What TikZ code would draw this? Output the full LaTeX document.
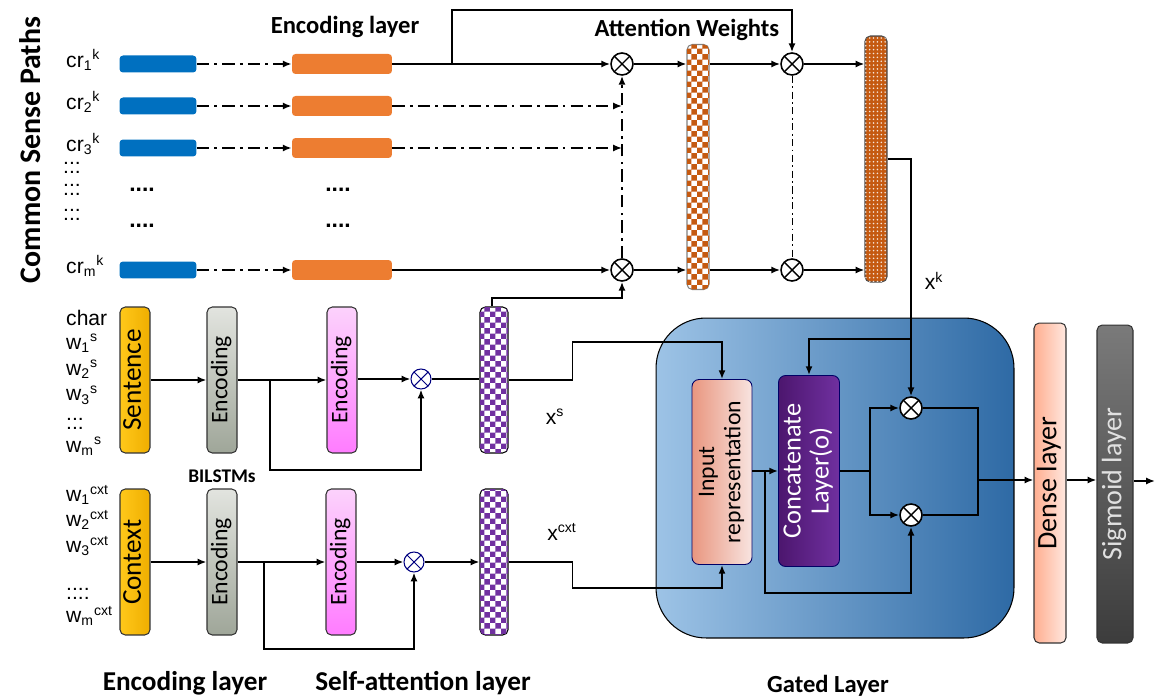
\documentclass[tikz,border=0pt]{standalone}
\usepackage{fontspec}
\setmainfont{Carlito}
\newfontfamily\arialf{Liberation Sans}
\usetikzlibrary{arrows.meta,patterns,calc}

\definecolor{cblue}{HTML}{0070C0}
\definecolor{corange}{HTML}{ED7D31}
\definecolor{cbrown}{HTML}{C55A11}
\definecolor{cpurple}{HTML}{7030A0}
\definecolor{cyel}{HTML}{FFC81A}
\definecolor{cyel2}{HTML}{EFAE00}
\definecolor{cgry}{HTML}{E2E4DF}
\definecolor{cgry2}{HTML}{9FA699}
\definecolor{cpnk}{HTML}{FCD2FC}
\definecolor{cpnk2}{HTML}{FF7CFF}
\definecolor{cir}{HTML}{E9967F}
\definecolor{cir2}{HTML}{F8E4E0}
\definecolor{cconc}{HTML}{4C166E}
\definecolor{cconc2}{HTML}{7030A0}
\definecolor{cgate}{HTML}{9DC3E6}
\definecolor{cgate2}{HTML}{2E6AA5}
\definecolor{cdns}{HTML}{FFAE90}
\definecolor{cdns2}{HTML}{FFE8E0}
\definecolor{csig}{HTML}{7A7A7A}
\definecolor{csig2}{HTML}{3C3C3C}

\pgfdeclarepatternformonly{bigchecker}{\pgfpointorigin}{\pgfqpoint{6.2pt}{6.2pt}}{\pgfqpoint{6.2pt}{6.2pt}}{%
  \pgfpathrectangle{\pgfpointorigin}{\pgfqpoint{3.1pt}{3.1pt}}%
  \pgfpathrectangle{\pgfqpoint{3.1pt}{3.1pt}}{\pgfqpoint{3.1pt}{3.1pt}}%
  \pgfusepath{fill}}
\pgfdeclarepatternformonly{whitedots}{\pgfqpoint{-1pt}{-1pt}}{\pgfqpoint{1pt}{1pt}}{\pgfqpoint{2.2pt}{2.2pt}}{%
  \pgfpathcircle{\pgfpointorigin}{0.5pt}\pgfusepath{fill}}

\newcommand{\vtxt}[1]{\rotatebox{90}{\begin{tabular}{@{}c@{}}#1\end{tabular}}}

\tikzset{
  ln/.style={line width=1.1pt},
  dd/.style={dash pattern=on 7pt off 3pt on 1.5pt off 3pt},
  ttl/.style={font=\fontsize{14}{16}\selectfont\bfseries},
  lbl/.style={font=\arialf\fontsize{12}{14}\selectfont},
  otimes/.style={circle, draw, line width=0.9pt, fill=white, minimum size=0.44cm, inner sep=0pt,
    path picture={\draw[line width=0.8pt] (path picture bounding box.north west) -- (path picture bounding box.south east)
      (path picture bounding box.south west) -- (path picture bounding box.north east);}},
  saot/.style={otimes, draw=blue!50!black, line width=0.6pt, minimum size=0.4cm,
    path picture={\draw[blue!50!black, line width=0.6pt] (path picture bounding box.north west) -- (path picture bounding box.south east)
      (path picture bounding box.south west) -- (path picture bounding box.north east);}},
  bbar/.style={rectangle, rounded corners=2pt, fill=cblue, minimum width=1.54cm, minimum height=0.34cm, inner sep=0pt},
  obar/.style={rectangle, rounded corners=2pt, fill=corange, minimum width=2cm, minimum height=0.4cm, inner sep=0pt},
  vbox/.style={rectangle, rounded corners=3pt, draw=black!80, line width=0.6pt, minimum width=0.6cm, minimum height=2.92cm, inner sep=0pt},
  ylw/.style={vbox, left color=cyel, right color=cyel2, font=\fontsize{15.5}{17}\selectfont},
  gry/.style={vbox, top color=cgry, bottom color=cgry2, font=\fontsize{13.5}{15}\selectfont},
  pnk/.style={vbox, top color=cpnk, bottom color=cpnk2, font=\fontsize{13.5}{15}\selectfont},
  pchk/.style={rectangle, rounded corners=3pt, draw=black, line width=0.6pt, minimum width=0.56cm, minimum height=2.92cm,
    inner sep=0pt, fill=white, postaction={pattern=bigchecker, pattern color=cpurple}},
  achk/.style={rectangle, rounded corners=3pt, draw=black!50, line width=0.6pt, minimum width=0.44cm, minimum height=4.9cm,
    inner sep=0pt, fill=white, postaction={pattern=bigchecker, pattern color=cbrown}},
  kbar/.style={rectangle, rounded corners=3pt, draw=black!70, line width=0.6pt, minimum width=0.44cm, minimum height=4.92cm,
    inner sep=0pt, fill=cbrown, postaction={pattern=whitedots, pattern color=white!85!cbrown}},
}

\begin{document}
\begin{tikzpicture}[x=0.02cm, y=-0.02cm, >={Latex[length=5pt,width=4pt]}]
\useasboundingbox (0,0) rectangle (1156,699);

% titles
\node[ttl, font=\fontsize{17}{19}\selectfont\bfseries, rotate=90] (csp) at (30,150) {Common Sense Paths};
\node[ttl] (enct) at (345,27) {Encoding layer};
\node[ttl] (attt) at (687,30) {Attention Weights};
\node[ttl, font=\fontsize{15.5}{18}\selectfont\bfseries] (encb) at (185,683) {Encoding layer};
\node[ttl, font=\fontsize{15.5}{18}\selectfont\bfseries] (selfb) at (423,683) {Self-attention layer};
\node[ttl] (gatedb) at (828,686) {Gated Layer};
\node[ttl, font=\fontsize{11}{13}\selectfont\bfseries] (bil) at (222,476) {BILSTMs};

% common sense paths
\foreach \i/\y in {1/64, 2/106, 3/148, m/270} {
  \node[lbl, anchor=west] (cr\i) at (60,\y-4) {cr\textsubscript{\i}\textsuperscript{k}};
  \node[bbar] (b\i) at (158,\y) {};
  \node[obar] (o\i) at (342,\y) {};
  \draw[ln, dd, ->] (b\i) -- (o\i);
}
\foreach \y in {168,190,215}
  \node[lbl] (dc\y) at (72,\y) {:::};
\foreach \x/\y in {142/194, 142/230, 338/194, 338/230}
  \node[lbl, font=\arialf\fontsize{13}{14}\selectfont\bfseries] (dt\x\y) at (\x,\y-4) {....};

% attention weights
\node[otimes] (m1) at (622,64) {};
\node[otimes] (mm) at (622,270) {};
\node[achk] (aw) at (698,167) {};
\node[otimes] (a1) at (792,64) {};
\node[otimes] (am) at (792,270) {};
\node[kbar] (kb) at (876,159) {};

\draw[ln,->] (o1) -- (m1);
\draw[ln,dd,->] (o2) -- (o2 -| m1);
\draw[ln,dd,->] (o3) -- (o3 -| m1);
\draw[ln,->] (om) -- (mm);
\draw[ln,dd,->] (mm) -- (m1);
\coordinate (tap) at (452,64);
\coordinate (loop) at (792,10);
\draw[ln,->] (tap) |- (loop) -- (a1);
\draw[ln,->] (m1) -- (m1 -| aw.west);
\draw[ln,->] (mm) -- (mm -| aw.west);
\draw[ln,->] (m1 -| aw.east) -- (a1);
\draw[ln,->] (mm -| aw.east) -- (am);
\draw[line width=0.5pt, dash pattern=on 4pt off 2pt on 1pt off 2pt] (a1) -- (am);
\draw[ln,->] (a1) -- (a1 -| kb.west);
\draw[ln,->] (am) -- (am -| kb.west);

% sentence
\foreach \t/\y in {char/318, w\textsubscript{1}\textsuperscript{s}/343, w\textsubscript{2}\textsuperscript{s}/369,
                   w\textsubscript{3}\textsuperscript{s}/395, :::/424, w\textsubscript{m}\textsuperscript{s}/446}
  \node[lbl, anchor=west] (sl\y) at (60,\y) {\t};
\node[ylw] (sen) at (135,380) {\vtxt{Sentence}};
\node[gry] (e1) at (222,380) {\vtxt{Encoding}};
\node[pnk] (p1) at (342,380) {\vtxt{Encoding}};
\node[saot] (s1) at (421,379) {};
\node[pchk] (x1) at (494,380) {};
\draw[ln,->] (sen) -- (e1);
\draw[ln,->] (e1) -- (e1 -| p1.west);
\coordinate (t1) at (270,380);
\draw[ln,->] (t1) -- ++(0,90) -| (s1);
\draw[ln,->] (p1.east |- s1) -- (s1);
\draw[ln] (s1) -- (s1 -| x1.west);
\draw[ln,->] (x1.north) ++(-2,0) |- (mm |- 0,298) -- (mm);
\node[lbl] (xs) at (555,417) {x\textsuperscript{s}};

% context
\foreach \t/\y in {w\textsubscript{1}\textsuperscript{cxt}/495, w\textsubscript{2}\textsuperscript{cxt}/520,
                   w\textsubscript{3}\textsuperscript{cxt}/546, ::::/594, w\textsubscript{m}\textsuperscript{cxt}/616}
  \node[lbl, anchor=west] (cl\y) at (60,\y) {\t};
\node[ylw] (ctx) at (135,562) {\vtxt{Context}};
\node[gry] (e2) at (222,562) {\vtxt{Encoding}};
\node[pnk] (p2) at (341,562) {\vtxt{Encoding}};
\node[saot] (s2) at (414,562) {};
\node[pchk] (x2) at (494,562) {};
\draw[ln,->] (ctx) -- (e2);
\draw[ln,->] (e2) -- (p2);
\coordinate (t2) at (264,562);
\draw[ln,->] (t2) -- ++(0,87) -| (s2);
\draw[ln,->] (p2) -- (s2);
\draw[ln,->] (s2) -- (x2);
\node[lbl] (xc) at (562,532) {x\textsuperscript{cxt}};

% gated layer
\node[rectangle, rounded corners=1cm, draw=black, line width=0.6pt, left color=cgate, right color=cgate2,
      minimum width=7.16cm, minimum height=6.4cm] (gate) at (835,478) {};
\node[rectangle, rounded corners=4pt, draw=blue!40!black, line width=0.5pt, left color=cir, right color=cir2,
      minimum width=1.2cm, minimum height=3.7cm, inner sep=0pt, font=\fontsize{13.5}{15}\selectfont]
      (ir) at (722,472) {\vtxt{Input\\representation}};
\node[rectangle, rounded corners=4pt, draw=blue!40!black, line width=0.5pt, left color=cconc, right color=cconc2,
      minimum width=1.22cm, minimum height=3.82cm, inner sep=0pt, text=white, font=\fontsize{15}{16}\selectfont]
      (cc) at (809,471) {\vtxt{Concatenate\\Layer(o)}};
\node[otimes] (gu) at (911,408) {};
\node[otimes] (gl) at (911,515) {};

\draw[ln,->] (x1.east) -- ++(64,0) |- ($(ir.north)+(0,-37)$) -- (ir.north);
\draw[ln,->] (x2.east) -- ++(64,0) |- ($(ir.south)+(0,23)$) -- (ir.south);
\draw[ln,->] (ir.east |- cc) -- (cc);
\coordinate (t3) at (765,471);
\draw[ln,->] (t3) -- ++(0,122) -| (gl);
\coordinate (t4) at (870,471);
\draw[ln] (cc) -- (t4);
\draw[ln,->] (t4) |- (gu);
\draw[ln,->] (t4) |- (gl);
\draw[ln,->] (kb.east) -| (gu);
\coordinate (t5) at (911,339);
\draw[ln,->] (t5) -| (cc);
\node[lbl] (xk) at (934,281) {x\textsuperscript{k}};

% output
\node[rectangle, rounded corners=3pt, draw=black!80, line width=0.6pt, left color=cdns, right color=cdns2,
      minimum width=0.64cm, minimum height=6.4cm, inner sep=0pt, font=\fontsize{16}{18}\selectfont]
      (dense) at (1050,483) {\vtxt{Dense layer}};
\node[rectangle, rounded corners=3pt, draw=black!80, line width=0.6pt, top color=csig, bottom color=csig2,
      minimum width=0.72cm, minimum height=6.36cm, inner sep=0pt, text=black!12, font=\fontsize{16}{18}\selectfont]
      (sig) at (1115,484) {\vtxt{Sigmoid layer}};
\coordinate (j1) at (978,480);
\draw[ln] (gu) -- ++(67,0) |- (gl);
\draw[ln,->] (j1) -- (j1 -| dense.west);
\draw[ln,->] (dense.east |- j1) -- (j1 -| sig.west);
\coordinate (out) at (1155,481);
\draw[ln,->] (sig.east |- out) -- (out);
\end{tikzpicture}
\end{document}
